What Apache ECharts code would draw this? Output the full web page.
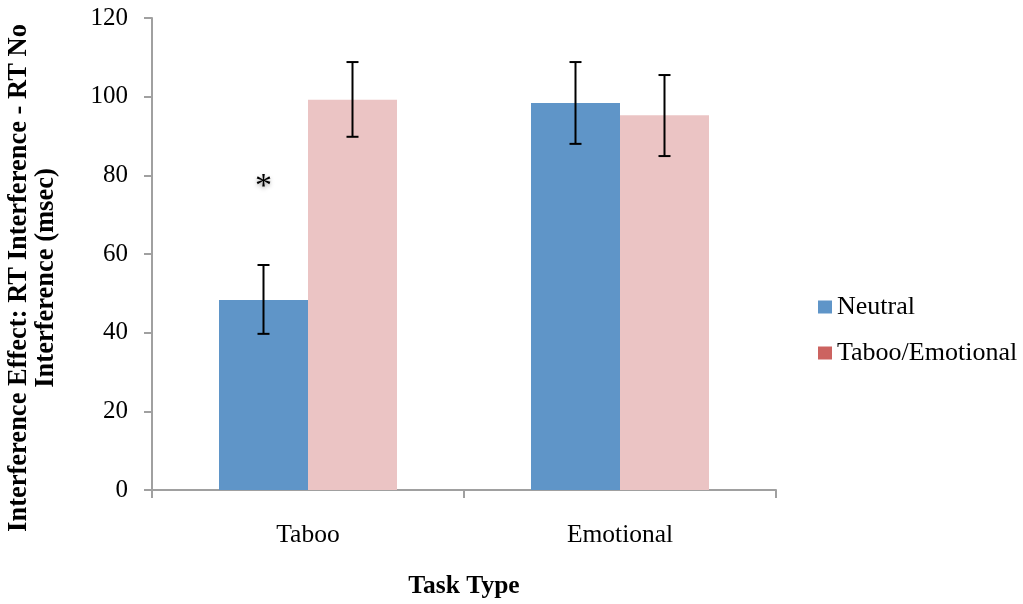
<!DOCTYPE html>
<html><head><meta charset="utf-8">
<script src="https://cdn.jsdelivr.net/npm/echarts@6/dist/echarts.min.js"></script>
<style>html,body{margin:0;padding:0;background:#fff}#c{width:1023px;height:604px}</style>
</head><body><div id="c"></div>
<script>
var categories = ['Taboo', 'Emotional'];
var neutral = [48.3, 98.4];
var neutralErrLow = [39.7, 88.0];
var neutralErrHigh = [57.2, 108.8];
var taboo = [99.2, 95.3];
var tabooErrLow = [89.8, 84.9];
var tabooErrHigh = [108.8, 105.5];
var significance = ['*', ''];
var yTicks = [0, 20, 40, 60, 80, 100, 120];

var FONT = '"Liberation Serif", "Times New Roman", serif';
var BAR_W = 89;

function errSeries(low, high, offset) {
  return {
    type: 'custom',
    z: 10,
    silent: true,
    data: categories.map(function (c, i) { return [i, low[i], high[i]]; }),
    renderItem: function (params, api) {
      var lo = api.coord([api.value(0), api.value(1)]);
      var hi = api.coord([api.value(0), api.value(2)]);
      var x = lo[0] + offset;
      var cap = 6;
      var st = { stroke: '#000', lineWidth: 2 };
      return { type: 'group', children: [
        { type: 'line', shape: { x1: x, y1: lo[1], x2: x, y2: hi[1] }, style: st },
        { type: 'line', shape: { x1: x - cap, y1: lo[1], x2: x + cap, y2: lo[1] }, style: st },
        { type: 'line', shape: { x1: x - cap, y1: hi[1], x2: x + cap, y2: hi[1] }, style: st }
      ]};
    }
  };
}

var chart = echarts.init(document.getElementById('c'));
chart.setOption({
  animation: false,
  grid: { left: 152, right: 247, top: 18, bottom: 114, outerBoundsMode: 'none', containLabel: false },
  legend: {
    orient: 'vertical', left: 813, top: 289, itemGap: 20,
    itemWidth: 14, itemHeight: 13, icon: 'rect',
    textStyle: { fontFamily: FONT, fontSize: 26, color: '#000' },
    data: [
      { name: 'Neutral', itemStyle: { color: '#5F95C8' } },
      { name: 'Taboo/Emotional', itemStyle: { color: '#CC6360' } }
    ]
  },
  xAxis: {
    type: 'category', data: categories,
    name: 'Task Type', nameLocation: 'middle', nameGap: 83,
    nameTextStyle: { fontFamily: FONT, fontSize: 25.5, fontWeight: 'bold', color: '#000' },
    axisLine: { lineStyle: { color: '#A0A0A0', width: 2 } },
    axisTick: { show: true, length: 8, lineStyle: { color: '#A0A0A0', width: 2 } },
    axisLabel: { fontFamily: FONT, fontSize: 25.5, color: '#000', margin: 32 }
  },
  yAxis: {
    type: 'value', min: 0, max: 120, interval: 20,
    axisLine: { show: true, lineStyle: { color: '#A0A0A0', width: 2 } },
    axisTick: { show: true, length: 8, lineStyle: { color: '#A0A0A0', width: 2 } },
    splitLine: { show: false },
    axisLabel: { fontFamily: FONT, fontSize: 25, color: '#000', margin: 24,
      formatter: function (v) { return yTicks.indexOf(v) >= 0 ? String(v) : ''; } }
  },
  graphic: [{
    type: 'text', x: 33, y: 278, rotation: Math.PI / 2,
    style: {
      text: 'Interference Effect: RT Interference - RT No\nInterference (msec)',
      fontFamily: FONT, fontSize: 26.5, fontWeight: 'bold', fill: '#000',
      align: 'center', verticalAlign: 'middle', lineHeight: 27
    }
  }],
  series: [
    { name: 'Neutral', type: 'bar', data: neutral, barWidth: BAR_W, barGap: '0%',
      itemStyle: { color: '#5F95C8' } },
    { name: 'Taboo/Emotional', type: 'bar', data: taboo, barWidth: BAR_W, barGap: '0%',
      itemStyle: { color: '#EBC4C4' } },
    errSeries(neutralErrLow, neutralErrHigh, -BAR_W / 2),
    errSeries(tabooErrLow, tabooErrHigh, BAR_W / 2),
    {
      type: 'custom', z: 11, silent: true,
      data: categories.map(function (c, i) { return [i, 77, significance[i]]; }),
      renderItem: function (params, api) {
        var p = api.coord([api.value(0), api.value(1)]);
        return { type: 'text', x: p[0] - BAR_W / 2, y: p[1],
          style: { text: significance[params.dataIndex], fontFamily: FONT, fontSize: 34,
            fill: '#000', align: 'center', verticalAlign: 'middle',
            textShadowColor: 'rgba(0,0,0,0.35)', textShadowBlur: 4, textShadowOffsetY: 2 } };
      }
    }
  ]
});
</script></body></html>
